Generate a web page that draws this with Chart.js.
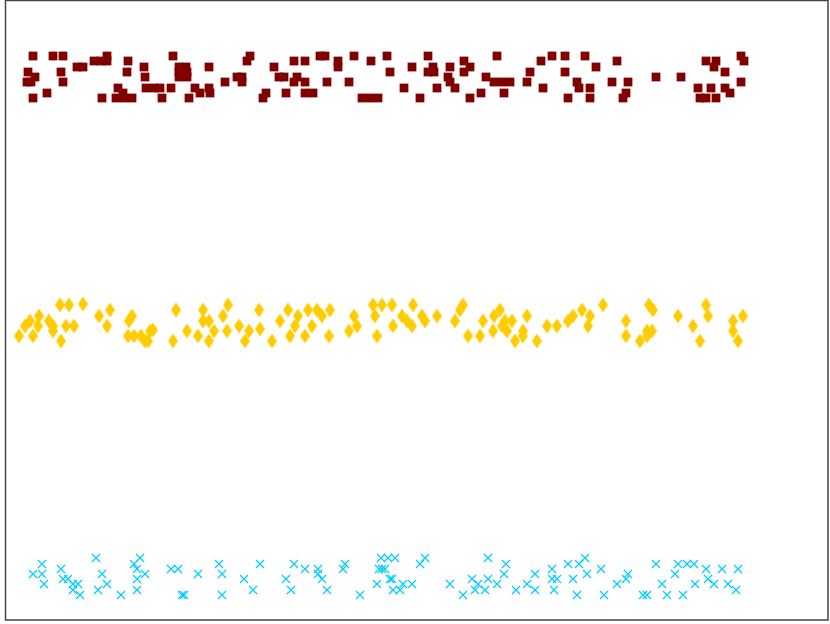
<!DOCTYPE html>
<html>
<head>
<meta charset="utf-8">
<script src="https://cdn.jsdelivr.net/npm/chart.js@4"></script>
<style>
    html, body { margin: 0; padding: 0; background: #fff; }
</style>
</head>
<body>
<canvas id="myChart" width="830" height="624"></canvas>
<script>
// top group: squares
const squareX = [
    2.7, 4.7, 5.7, 10.1, 16.7, 24.4,
    8.8, 9.5, 10.1, 12.2, 24.1,
    7.1, 7.7, 13.8, 17.3, 18.0, 20.3,
    2.2, 5.5, 12.1, 17.3, 18.1,
    2.9, 13.9, 17.3, 18.1, 23.1, 23.6,
    2.1, 2.5, 5.7, 21.9, 23.6,
    11.2, 14.0, 14.8, 15.4, 16.5, 18.9, 20.3,
    4.1, 11.7, 19.4, 20.4,
    2.7, 9.6, 11.0, 11.8, 12.6, 15.6, 18.3,
    31.4, 31.9, 34.8, 38.1, 42.2, 49.1,
    28.8, 29.9, 33.2, 36.5, 45.8,
    26.8, 33.2, 40.6, 42.7, 44.4, 46.4,
    38.4, 42.2, 42.8, 45.8,
    27.3, 27.8, 29.1, 44.2, 48.0,
    28.8, 29.9, 32.1, 34.3, 44.4, 48.8, 49.6, 50.4,
    39.8, 43.1, 44.9,
    26.0, 28.0, 29.9, 30.7, 47.5, 49.8,
    25.7, 35.6, 36.4, 37.2, 41.4, 46.4,
    54.6, 55.9, 57.9, 73.5,
    53.5, 61.1, 70.0, 71.0, 73.8,
    59.0, 70.8,
    52.4, 55.9, 71.9,
    65.0, 67.5,
    52.1, 57.1, 60.6, 62.2, 73.5,
    53.7, 57.3, 58.4, 69.2, 70.5, 71.9,
    62.0, 72.4,
    56.2, 58.4, 61.7, 69.4, 70.0, 71.0
]
const squareY = [
    56.4, 56.4, 56.4, 56.4, 56.4, 56.4,
    55.9, 55.9, 55.9, 55.9, 55.9,
    55.3, 55.3, 55.3, 55.3, 55.3, 55.3,
    54.8, 54.8, 54.8, 54.8, 54.8,
    54.3, 54.3, 54.3, 54.3, 54.3, 54.3,
    53.8, 53.8, 53.8, 53.8, 53.8,
    53.2, 53.2, 53.2, 53.2, 53.2, 53.2, 53.2,
    52.7, 52.7, 52.7, 52.7,
    52.2, 52.2, 52.2, 52.2, 52.2, 52.2, 52.2,
    56.4, 56.4, 56.4, 56.4, 56.4, 56.4,
    55.9, 55.9, 55.9, 55.9, 55.9,
    55.3, 55.3, 55.3, 55.3, 55.3, 55.3,
    54.8, 54.8, 54.8, 54.8,
    54.3, 54.3, 54.3, 54.3, 54.3,
    53.8, 53.8, 53.8, 53.8, 53.8, 53.8, 53.8, 53.8,
    53.2, 53.2, 53.2,
    52.7, 52.7, 52.7, 52.7, 52.7, 52.7,
    52.2, 52.2, 52.2, 52.2, 52.2, 52.2,
    56.4, 56.4, 56.4, 56.4,
    55.9, 55.9, 55.9, 55.9, 55.9,
    55.3, 55.3,
    54.8, 54.8, 54.8,
    54.3, 54.3,
    53.8, 53.8, 53.8, 53.8, 53.8,
    53.2, 53.2, 53.2, 53.2, 53.2, 53.2,
    52.7, 52.7,
    52.2, 52.2, 52.2, 52.2, 52.2, 52.2
]

// middle group: diamonds
const diamondX = [
    1.3, 1.9, 2.4, 3.3, 2.7, 3.2, 4.3, 4.7, 4.7, 5.5, 5.4, 6.3, 6.0, 6.8, 7.7,
    9.3, 10.4, 10.1, 12.6, 12.3, 12.2, 12.8, 13.5, 13.9, 14.2, 14.4, 14.7,
    17.0, 16.7, 18.1, 19.2, 19.7, 19.7, 20.3, 20.8, 20.3, 21.7, 22.2, 22.1,
    23.3, 24.3, 23.9, 25.3, 25.4, 26.6, 28.2, 27.4, 29.2, 28.9, 28.4, 29.9,
    30.2, 31.1, 30.6, 31.6, 32.4, 32.3, 34.8, 34.3, 35.1, 36.7, 37.6, 38.6,
    36.9, 37.1, 38.7, 39.6, 40.1, 40.6, 40.7, 41.6, 41.9, 43.1, 45.7, 45.4,
    44.9, 46.2, 47.4, 47.7, 48.8, 49.4, 48.7, 49.6, 49.9, 50.6, 50.1, 50.9,
    51.7, 51.7, 52.1, 53.1, 54.1, 55.1, 56.2, 56.7, 57.6, 58.4, 58.2, 59.7,
    62.0, 62.0, 63.4, 64.1, 64.6, 64.3, 64.7, 64.1, 67.2, 68.7, 69.4, 70.0,
    70.2, 72.7, 72.7, 73.7, 73.2
]
const diamondY = [
    28.4, 29.4, 29.9, 30.4, 28.4, 29.4, 29.9, 29.4, 28.9, 27.9, 31.5, 31.5, 29.4, 29.4, 31.6,
    30.4, 31.0, 29.4, 30.4, 29.9, 28.4, 28.4, 28.4, 27.9, 27.9, 28.9, 29.0,
    31.0, 27.9, 28.9, 28.4, 31.0, 29.9, 29.9, 28.9, 27.9, 30.4, 31.5, 28.9,
    29.4, 28.9, 27.9, 31.0, 29.1, 27.9, 31.0, 29.9, 30.4, 29.4, 28.4, 28.4,
    31.0, 31.0, 29.4, 30.4, 31.0, 28.4, 30.4, 28.9, 29.4, 31.5, 31.5, 31.5,
    30.4, 28.4, 29.4, 30.4, 29.9, 29.4, 31.5, 30.4, 29.9, 30.4, 31.5, 31.0,
    29.9, 28.4, 28.4, 29.9, 30.4, 31.0, 28.9, 29.4, 29.9, 29.9, 28.9, 27.9,
    28.9, 28.4, 30.4, 27.9, 29.4, 29.4, 29.9, 30.4, 31.0, 30.4, 29.4, 31.5,
    29.9, 28.4, 27.9, 28.9, 28.9, 31.5, 31.0, 28.4, 30.4, 29.4, 27.9, 31.5,
    30.4, 29.9, 28.9, 30.4, 27.9
]

// bottom group: crosses
const crossX = [
    3.6, 2.7, 3.6, 3.8, 5.5, 5.7, 6.2, 6.7, 6.7, 7.2, 7.4, 9.0, 9.6, 10.1, 9.2,
    11.5, 13.4, 12.8, 13.1, 13.9, 13.1, 13.1, 16.5, 17.2, 17.6, 17.8, 19.2,
    21.3, 21.6, 21.6, 23.8, 24.7, 25.4, 28.0, 28.5, 28.8, 29.9, 31.2, 31.2,
    31.6, 32.1, 33.9, 33.7, 35.4, 37.1, 37.5, 38.2, 38.9, 37.3, 37.6, 37.9,
    38.4, 38.6, 38.7, 39.4, 39.7, 40.6, 41.4, 41.9, 44.4, 45.7, 46.6, 46.9,
    47.2, 47.9, 48.2, 48.2, 49.1, 49.8, 50.0, 51.0, 52.1, 52.9, 52.9, 54.6,
    54.6, 55.1, 54.8, 56.2, 57.3, 57.9, 58.1, 56.7, 57.1, 59.5, 59.8, 61.1,
    62.0, 62.2, 63.7, 64.1, 65.0, 65.6, 66.1, 66.9, 67.2, 68.1, 68.8, 67.7,
    68.9, 70.0, 70.2, 70.8, 71.6, 72.2, 73.0, 73.2
]
const crossY = [
    5.6, 4.6, 4.6, 3.6, 5.1, 4.1, 4.1, 3.6, 3.0, 3.6, 2.5, 6.2, 4.6, 3.6, 3.0,
    2.5, 6.2, 5.6, 5.1, 4.6, 4.1, 3.0, 5.1, 5.1, 2.5, 2.5, 4.6,
    5.6, 4.6, 2.5, 4.1, 3.0, 5.6, 4.1, 3.0, 5.6, 5.1, 5.1, 4.6,
    4.1, 3.0, 5.6, 5.1, 2.5, 3.6, 6.2, 6.2, 6.2, 5.1, 5.1, 5.1,
    4.1, 4.1, 3.0, 3.0, 3.6, 3.6, 5.6, 6.2, 3.6, 2.5, 4.1, 3.0,
    3.6, 3.0, 6.2, 4.1, 3.6, 4.6, 5.6, 3.0, 3.6, 4.6, 3.0, 5.1,
    4.1, 4.1, 3.0, 5.6, 5.6, 6.2, 4.6, 4.1, 2.5, 5.1, 2.5, 3.6,
    4.1, 4.6, 2.5, 2.5, 5.6, 3.6, 2.5, 4.6, 5.6, 5.6, 5.6, 2.5,
    3.6, 5.1, 4.1, 3.6, 5.1, 3.6, 3.0, 5.1
]

const xRange = [0, 82.2]
const yRange = [0, 61.9]

document.addEventListener('DOMContentLoaded', function () {
    const toPoints = (xs, ys) => xs.map((x, i) => ({ x: x, y: ys[i] }))

    // thin diamond marker
    const diamond = document.createElement('canvas')
    diamond.width = 11
    diamond.height = 16
    const dctx = diamond.getContext('2d')
    dctx.fillStyle = '#ffcc00'
    dctx.beginPath()
    dctx.moveTo(5.5, 0.5)
    dctx.lineTo(10.5, 8)
    dctx.lineTo(5.5, 15.5)
    dctx.lineTo(0.5, 8)
    dctx.closePath()
    dctx.fill()

    // frame round the plot area
    const framePlugin = {
        id: 'frame',
        afterDraw(chart) {
            const a = chart.chartArea
            const ctx = chart.ctx
            ctx.save()
            ctx.strokeStyle = '#444'
            ctx.lineWidth = 1.5
            ctx.strokeRect(a.left - 0.5, a.top - 0.5, a.right - a.left + 0.5, a.bottom - a.top + 0.5)
            ctx.restore()
        }
    }

    const ctx = document.getElementById('myChart').getContext('2d')
    const chart = new Chart(ctx, {
        type: 'scatter',
        data: {
            datasets: [{
                data: toPoints(squareX, squareY),
                pointStyle: 'rect',
                pointRadius: 6.2,
                borderWidth: 0,
                backgroundColor: '#800000',
                borderColor: '#800000'
            }, {
                data: toPoints(diamondX, diamondY),
                pointStyle: diamond,
                pointRadius: 7,
                backgroundColor: '#ffcc00',
                borderColor: '#ffcc00'
            }, {
                data: toPoints(crossX, crossY),
                pointStyle: 'crossRot',
                pointRadius: 5.7,
                borderWidth: 1.2,
                backgroundColor: '#00ccff',
                borderColor: '#00ccff'
            }]
        },
        options: {
            responsive: false,
            animation: false,
            events: [],
            layout: { autoPadding: false, padding: { left: 6, top: 1, right: 2, bottom: 4 } },
            plugins: {
                legend: { display: false },
                tooltip: { enabled: false }
            },
            scales: {
                x: { type: 'linear', min: xRange[0], max: xRange[1], display: false },
                y: { type: 'linear', min: yRange[0], max: yRange[1], display: false }
            }
        },
        plugins: [framePlugin]
    });
});
</script>
</body>
</html>
